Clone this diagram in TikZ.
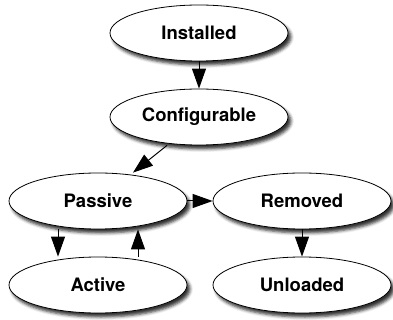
\documentclass[tikz,border=0pt]{standalone}
\usepackage{fontspec}
\setmainfont{TeX Gyre Heros}
\usetikzlibrary{arrows.meta,shapes.geometric,shadows.blur}
\tikzset{
    ell/.style={ellipse, draw, line width=0.8pt, fill=white, inner sep=0pt,
        minimum width=178pt, minimum height=56pt,
        font=\fontsize{18.5}{20}\selectfont\bfseries,
        blur shadow={shadow xshift=3pt, shadow yshift=-4pt, shadow blur radius=3pt, shadow opacity=80}},
    arr/.style={line width=1pt, -{Triangle[length=20pt,width=14pt]}}
}
\begin{document}
\begin{tikzpicture}[x=1pt,y=1pt]
\useasboundingbox (0,0) rectangle (393,-320);
\node[ell] (inst) at (199, -33) {Installed};
\node[ell] (conf) at (199,-117) {Configurable};
\node[ell] (pass) at ( 98,-201) {Passive};
\node[ell] (remv) at (302,-201) {Removed};
\node[ell] (actv) at ( 98,-285) {Active};
\node[ell] (unld) at (302,-285) {Unloaded};
\draw[arr] (inst.south) -- (conf.north);
\draw[arr] ([xshift=-32pt]conf.south) -- ([xshift=35pt]pass.north);
\draw[arr] (pass.east) -- (remv.west);
\draw[arr] ([xshift=-40pt]pass.south) -- ([xshift=-40pt]actv.north);
\draw[arr] ([xshift=40pt]actv.north) -- ([xshift=40pt]pass.south);
\draw[arr] (remv.south) -- (unld.north);
\end{tikzpicture}
\end{document}
